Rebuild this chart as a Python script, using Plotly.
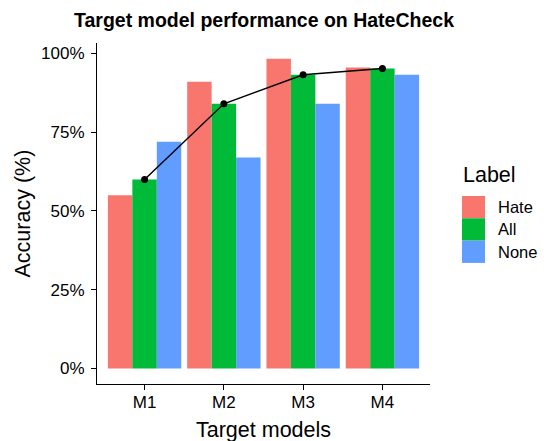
import plotly.graph_objects as go

models = ["M1", "M2", "M3", "M4"]
hate = [55, 91, 98.3, 95.5]
all_ = [60, 84, 93.2, 95.2]
none = [72, 67, 84, 93.2]
series_names = ["Hate", "All", "None"]
series_colors = ["#F8766D", "#00BA38", "#619CFF"]
y_ticks = [0, 25, 50, 75, 100]
y_tick_labels = ["0%", "25%", "50%", "75%", "100%"]

FONT = "Liberation Sans, Arial, Helvetica, sans-serif"

W, H = 544, 441
L, R, T, B = 97, 114, 43, 57
px_w = W - L - R
px_h = H - T - B


def px(xp):
    return (xp - L) / px_w


def py(yp):
    return (H - B - yp) / px_h


fig = go.Figure()
for name, vals, col in zip(series_names, [hate, all_, none], series_colors):
    fig.add_trace(go.Bar(x=models, y=vals, name=name,
                         marker=dict(color=col, line=dict(width=0)),
                         showlegend=False))

fig.add_trace(go.Scatter(x=models, y=all_, mode="lines+markers",
                         line=dict(color="black", width=1.5),
                         marker=dict(color="black", size=7), showlegend=False))

fig.update_layout(
    width=W, height=H,
    margin=dict(l=L, r=R, t=T, b=B, autoexpand=False),
    paper_bgcolor="white", plot_bgcolor="white",
    barmode="group", bargap=0.075, bargroupgap=0,
    font=dict(family=FONT, color="black"),
    xaxis=dict(showline=True, linecolor="black", linewidth=1, ticks="outside", ticklen=5,
               tickcolor="black", tickfont=dict(size=17, color="black"),
               ticklabelstandoff=-2,
               range=[-0.6, 3.6], showgrid=False, zeroline=False),
    yaxis=dict(showline=True, linecolor="black", linewidth=1, ticks="outside", ticklen=5,
               tickcolor="black", tickfont=dict(size=17, color="black"),
               ticklabelstandoff=3,
               tickvals=y_ticks, ticktext=y_tick_labels,
               range=[-4.92, 103.3], showgrid=False, zeroline=False),
)

# title
fig.add_annotation(x=px((L + W - R) / 2), y=py(20), xref="paper", yref="paper",
                   text="<b>Target model performance on HateCheck</b>", showarrow=False,
                   xanchor="center", yanchor="middle",
                   font=dict(size=19.5, color="black", family=FONT))
# axis titles
fig.add_annotation(x=px((L + W - R) / 2), y=py(430), xref="paper", yref="paper",
                   text="Target models", showarrow=False, xanchor="center", yanchor="middle",
                   font=dict(size=21.5, color="black", family=FONT))
fig.add_annotation(x=px(22), y=py((T + H - B) / 2), xref="paper", yref="paper",
                   text="Accuracy (%)", showarrow=False, textangle=-90,
                   xanchor="center", yanchor="middle",
                   font=dict(size=21.5, color="black", family=FONT))

# legend (ggplot-style keys)
fig.add_annotation(x=px(461), y=py(175), xref="paper", yref="paper", text="Label",
                   showarrow=False, xanchor="left", yanchor="middle",
                   font=dict(size=21.5, color="black", family=FONT))
key_top = 196
key_h = 22.3
for i, (name, col) in enumerate(zip(series_names, series_colors)):
    y0 = key_top + i * key_h
    fig.add_shape(type="rect", xref="paper", yref="paper",
                  x0=px(462), x1=px(485), y0=py(y0 + key_h), y1=py(y0),
                  fillcolor=col, line=dict(width=0))
    fig.add_annotation(x=px(496), y=py(y0 + key_h / 2), xref="paper", yref="paper", text=name,
                       showarrow=False, xanchor="left", yanchor="middle",
                       font=dict(size=16.5, color="black", family=FONT))

fig.write_html("out.html", config={"displayModeBar": False},
               post_script="document.body.style.margin='0';")
